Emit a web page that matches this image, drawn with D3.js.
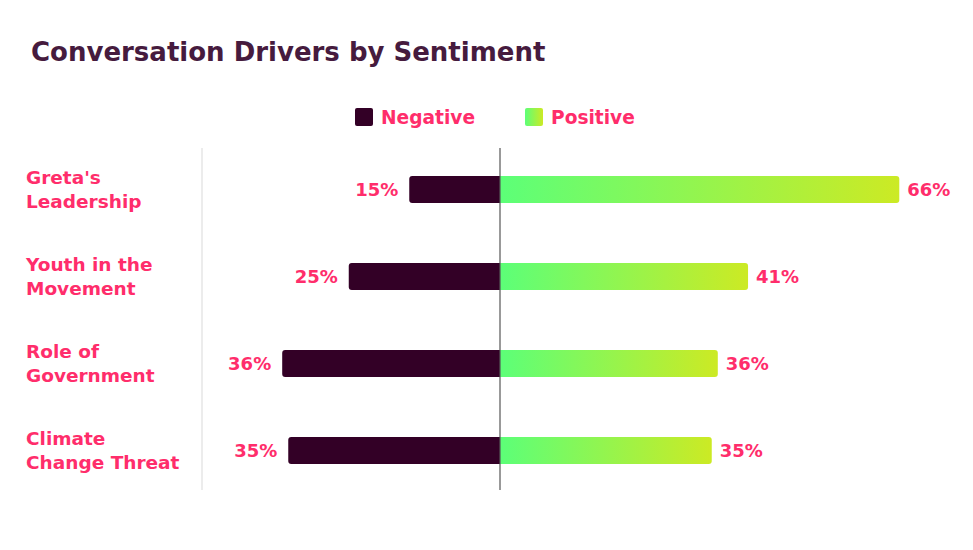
<!DOCTYPE html>
<html>
<head>
<meta charset="utf-8">
<script src="https://cdn.jsdelivr.net/npm/d3@7"></script>
<style>
  html, body { margin: 0; padding: 0; background: #ffffff; }
  svg { display: block; font-family: "DejaVu Sans", sans-serif; font-weight: 700; }
</style>
</head>
<body>
<svg id="chart" width="973" height="550"></svg>
<script>
const categories = [["Greta's", "Leadership"], ["Youth in the", "Movement"], ["Role of", "Government"], ["Climate", "Change Threat"]];
const categoryKeys = ["Greta's Leadership", "Youth in the Movement", "Role of Government", "Climate Change Threat"];
const negativeValues = [15, 25, 36, 35];
const positiveValues = [66, 41, 36, 35];
const seriesNames = ["Negative", "Positive"];

const W = 973, H = 550;
const pink = "#ff2d6b";
const negColor = "#330026";
const svg = d3.select("#chart");

const defs = svg.append("defs");
const grad = defs.append("linearGradient").attr("id", "posGrad")
  .attr("x1", "0%").attr("x2", "100%").attr("y1", "0%").attr("y2", "0%");
grad.append("stop").attr("offset", "0%").attr("stop-color", "#5cff78");
grad.append("stop").attr("offset", "100%").attr("stop-color", "#ccea24");

const x = d3.scaleLinear().domain([-100, 100]).range([500 - 605, 500 + 605]);
const y = d3.scaleBand().domain(categoryKeys).range([146, 494]).paddingInner(0.69).paddingOuter(0.345);

// title
svg.append("text").attr("x", 31).attr("y", 61)
  .attr("fill", "#461b3e").attr("font-size", 26).text("Conversation Drivers by Sentiment");

// legend
const legend = [{name: seriesNames[0], fill: negColor, x: 355}, {name: seriesNames[1], fill: "url(#posGrad)", x: 525}];
const lg = svg.append("g").selectAll("g").data(legend).join("g")
  .attr("transform", d => `translate(${d.x},108)`);
lg.append("rect").attr("width", 18).attr("height", 18).attr("rx", 2).attr("fill", d => d.fill);
lg.append("text").attr("x", 26).attr("y", 16).attr("fill", pink).attr("font-size", 18.6).text(d => d.name);

// gridlines
svg.append("line").attr("x1", 202).attr("x2", 202).attr("y1", 148).attr("y2", 490)
  .attr("stroke", "#e6e6e6").attr("stroke-width", 1.5);

// category labels
const cl = svg.append("g").selectAll("text").data(categoryKeys).join("text")
  .attr("x", 26).attr("fill", pink).attr("font-size", 18.5);
cl.each(function(d, i) {
  const t = d3.select(this);
  const cy = y(d) + y.bandwidth() / 2;
  categories[i].forEach((line, j) => {
    t.append("tspan").attr("x", 26).attr("y", cy - 6 + j * 24).text(line);
  });
});

const bh = y.bandwidth();
function roundedPath(x0, x1, yTop, h, r, side) {
  if (side === "left") {
    return `M${x1},${yTop} L${x0 + r},${yTop} Q${x0},${yTop} ${x0},${yTop + r} L${x0},${yTop + h - r} Q${x0},${yTop + h} ${x0 + r},${yTop + h} L${x1},${yTop + h} Z`;
  }
  return `M${x0},${yTop} L${x1 - r},${yTop} Q${x1},${yTop} ${x1},${yTop + r} L${x1},${yTop + h - r} Q${x1},${yTop + h} ${x1 - r},${yTop + h} L${x0},${yTop + h} Z`;
}

// negative bars
svg.append("g").selectAll("path").data(negativeValues).join("path")
  .attr("d", (d, i) => roundedPath(x(-d), x(0), y(categoryKeys[i]), bh, 3, "left"))
  .attr("fill", negColor);

// positive bars
svg.append("g").selectAll("path").data(positiveValues).join("path")
  .attr("d", (d, i) => roundedPath(x(0), x(d), y(categoryKeys[i]), bh, 3, "right"))
  .attr("fill", "url(#posGrad)");

// value labels
svg.append("g").selectAll("text").data(negativeValues).join("text")
  .attr("x", d => x(-d) - 11).attr("y", (d, i) => y(categoryKeys[i]) + bh / 2 + 6.5)
  .attr("text-anchor", "end").attr("fill", pink).attr("font-size", 18).text(d => d + "%");
svg.append("g").selectAll("text").data(positiveValues).join("text")
  .attr("x", d => x(d) + 8).attr("y", (d, i) => y(categoryKeys[i]) + bh / 2 + 6.5)
  .attr("fill", pink).attr("font-size", 18).text(d => d + "%");

// center axis
svg.append("line").attr("x1", x(0)).attr("x2", x(0)).attr("y1", 148).attr("y2", 490)
  .attr("stroke", "#555555").attr("stroke-width", 1.2);
</script>
</body>
</html>
